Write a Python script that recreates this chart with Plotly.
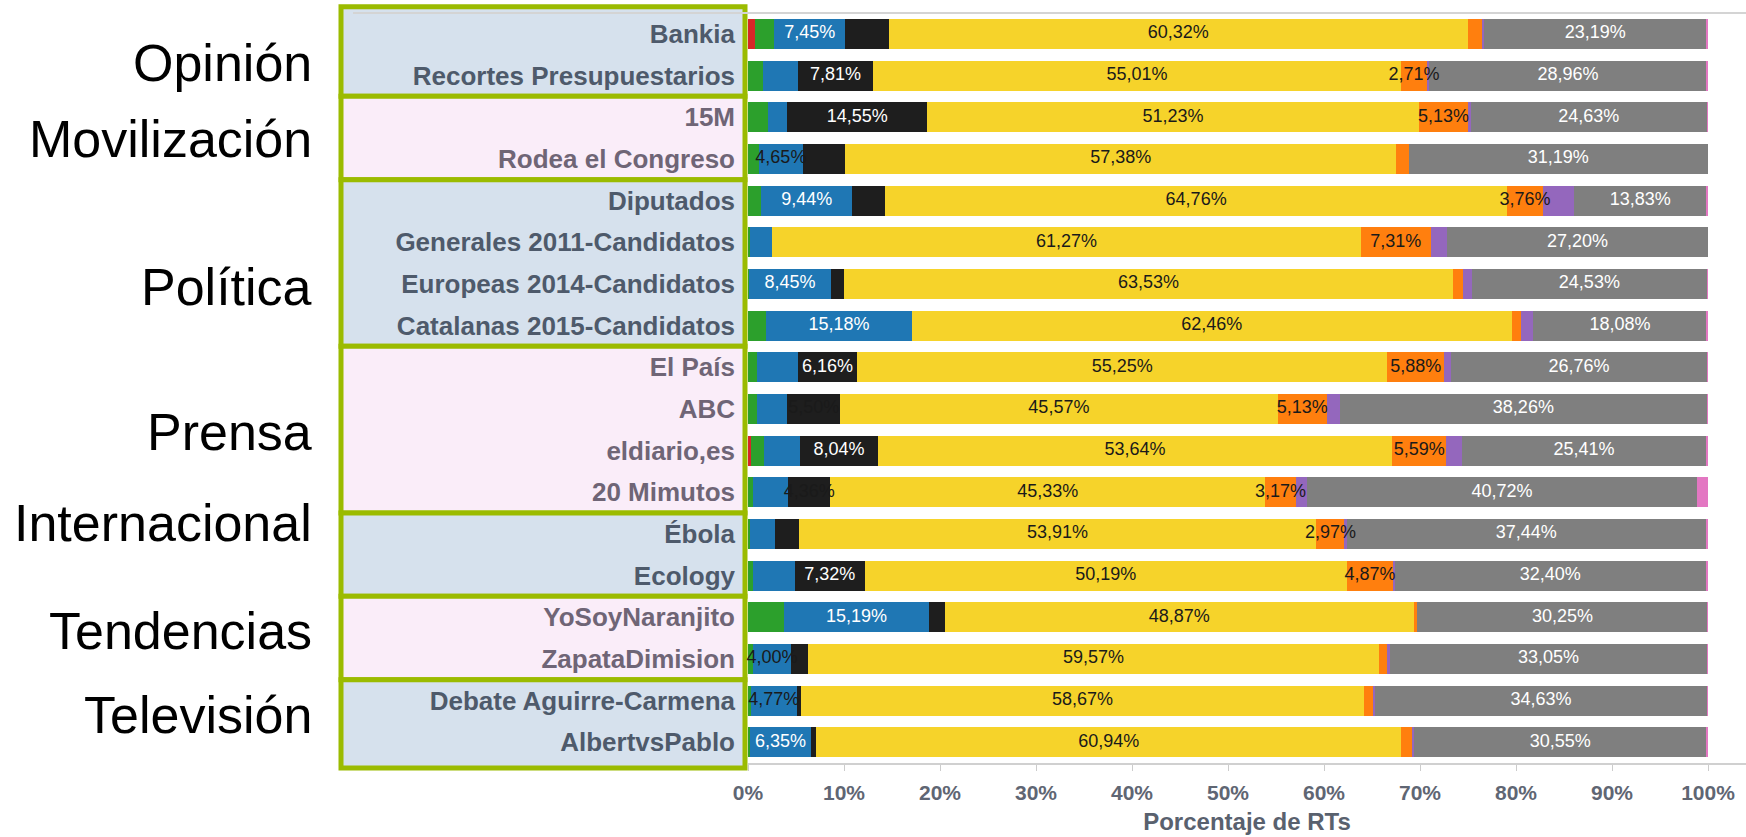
import plotly.graph_objects as go

# ---------------- data ----------------
categories = ["Bankia", "Recortes Presupuestarios", "15M", "Rodea el Congreso",
              "Diputados", "Generales 2011-Candidatos", "Europeas 2014-Candidatos",
              "Catalanas 2015-Candidatos", "El País", "ABC", "eldiario,es", "20 Mimutos",
              "Ébola", "Ecology", "YoSoyNaranjito", "ZapataDimision",
              "Debate Aguirre-Carmena", "AlbertvsPablo"]

rojo     = [0.70, 0.00, 0.00, 0.00, 0.00, 0.00, 0.00, 0.00, 0.05, 0.00, 0.35, 0.00, 0.00, 0.00, 0.00, 0.00, 0.00, 0.00]
verde    = [2.00, 1.60, 2.10, 1.10, 1.40, 0.25, 0.15, 1.90, 0.90, 0.90, 1.30, 0.50, 0.16, 0.50, 3.70, 0.50, 0.30, 0.20]
azul     = [7.45, 3.60, 2.00, 4.65, 9.44, 2.30, 8.45, 15.18, 4.25, 3.20, 3.80, 3.70, 2.70, 4.35, 15.19, 4.00, 4.77, 6.35]
negro    = [4.50, 7.81, 14.55, 4.40, 3.46, 0.00, 1.35, 0.00, 6.16, 5.50, 8.04, 4.36, 2.42, 7.32, 1.60, 1.70, 0.45, 0.55]
amarillo = [60.32, 55.01, 51.23, 57.38, 64.76, 61.27, 63.53, 62.46, 55.25, 45.57, 53.64, 45.33, 53.91, 50.19, 48.87, 59.57, 58.67, 60.94]
naranja  = [1.45, 2.71, 5.13, 1.28, 3.76, 7.31, 0.95, 1.00, 5.88, 5.13, 5.59, 3.17, 2.97, 4.87, 0.35, 0.80, 1.00, 1.20]
morado   = [0.25, 0.20, 0.26, 0.00, 3.20, 1.67, 0.95, 1.25, 0.70, 1.34, 1.67, 1.12, 0.20, 0.15, 0.00, 0.30, 0.10, 0.10]
gris     = [23.19, 28.96, 24.63, 31.19, 13.83, 27.20, 24.53, 18.08, 26.76, 38.26, 25.41, 40.72, 37.44, 32.40, 30.25, 33.05, 34.63, 30.55]
rosa     = [0.14, 0.10, 0.10, 0.00, 0.15, 0.00, 0.09, 0.13, 0.05, 0.10, 0.20, 1.10, 0.20, 0.22, 0.04, 0.08, 0.08, 0.11]

# which segments carry a value label (1 = light text, 2 = dark text, 0 = none)
azul_lbl     = [1, 0, 0, 2, 1, 0, 1, 1, 0, 0, 0, 0, 0, 0, 1, 2, 2, 1]
negro_lbl    = [0, 1, 1, 0, 0, 0, 0, 0, 1, 2, 1, 2, 0, 1, 0, 0, 0, 0]
amarillo_lbl = [2] * 18
naranja_lbl  = [0, 2, 2, 0, 2, 2, 0, 0, 2, 2, 2, 2, 2, 2, 0, 0, 0, 0]
gris_lbl     = [1] * 18

groups = ["Opinión", "Movilización", "Política", "Prensa", "Internacional", "Tendencias", "Televisión"]
group_sizes = [2, 2, 4, 4, 2, 2, 2]
x_ticks = [0, 10, 20, 30, 40, 50, 60, 70, 80, 90, 100]
x_title = "Porcentaje de RTs"

# ---------------- styling ----------------
W, H = 1746, 837
ML, MR, MT, MB = 748, 0, 13, 74
PW = W - ML - MR
PH = H - MT - MB
PX_PER_PCT = 9.6
FONT = "Liberation Sans, Arial, sans-serif"
N = len(categories)

series = [
    ("Rojo", rojo, "#d62728", None),
    ("Verde", verde, "#2ca02c", None),
    ("Azul", azul, "#1f77b4", azul_lbl),
    ("Negro", negro, "#1e1e1e", negro_lbl),
    ("Amarillo", amarillo, "#f6d32a", amarillo_lbl),
    ("Naranja", naranja, "#ff7f0e", naranja_lbl),
    ("Morado", morado, "#9467bd", None),
    ("Gris", gris, "#7f7f7f", gris_lbl),
    ("Rosa", rosa, "#e377c2", None),
]

def fmt(v):
    return ("%.2f" % v).replace(".", ",") + "%"

fig = go.Figure()
base = [0.0] * N
lab_x, lab_y, lab_t, lab_c = [], [], [], []
for name, vals, color, lbl in series:
    fig.add_trace(go.Bar(
        name=name, y=categories, x=vals, orientation="h",
        marker=dict(color=color, line=dict(width=0)),
        width=0.72, hoverinfo="skip", showlegend=False,
    ))
    if lbl is not None:
        for i, (v, m) in enumerate(zip(vals, lbl)):
            if m:
                lab_x.append(base[i] + v / 2.0)
                lab_y.append(categories[i])
                lab_t.append(fmt(v))
                lab_c.append("#ffffff" if m == 1 else "#1a1a1a")
    base = [b + v for b, v in zip(base, vals)]

# value labels drawn on top of every segment (so overflowing text stays visible)
fig.add_trace(go.Scatter(
    x=lab_x, y=lab_y, mode="text", text=lab_t, textposition="middle center",
    textfont=dict(family=FONT, size=18, color=lab_c),
    hoverinfo="skip", showlegend=False, cliponaxis=False,
))

# tick labels with colours depending on group shading
blue_txt, pink_txt = "#4e5a6b", "#6f6576"
ticktext = []
idx = 0
for gi, n in enumerate(group_sizes):
    col = blue_txt if gi % 2 == 0 else pink_txt
    for _ in range(n):
        ticktext.append('<span style="color:%s"><b>%s</b></span>' % (col, categories[idx]))
        idx += 1

def row_to_paper(r):
    # r: category position (0 = top row), boundaries at half-integers
    return 1 - (r + 0.5) / N

shapes = []
box_x0 = (341 - ML) / PW
box_x1 = (745 - ML) / PW
start = 0
for gi, n in enumerate(group_sizes):
    fill = "#d6e1ed" if gi % 2 == 0 else "#faedf9"
    r0 = start - 0.5 - (0.15 if gi == 0 else 0)
    r1 = start + n - 0.5 + (0.12 if gi == len(group_sizes) - 1 else 0)
    shapes.append(dict(type="rect", xref="paper", yref="paper", x0=box_x0, x1=box_x1,
                       y0=row_to_paper(r1), y1=row_to_paper(r0), fillcolor=fill,
                       line=dict(color="#9bbb00", width=5), layer="below"))
    start += n
# thin top rule of the table
shapes.append(dict(type="line", xref="paper", yref="paper", x0=(353 - ML) / PW, x1=1,
                   y0=1, y1=1, line=dict(color="#d4d4d4", width=2), layer="above"))

# big section labels (slide overlay)
label_px_y = [63, 139, 287, 432, 523, 631, 715]
annotations = []
for g, py in zip(groups, label_px_y):
    annotations.append(dict(text=g, xref="paper", yref="paper",
                            x=(314 - ML) / PW, y=1 - (py - MT) / PH,
                            xanchor="right", yanchor="middle", showarrow=False,
                            font=dict(family=FONT, size=52, color="#000000")))

fig.update_layout(
    width=W, height=H, autosize=False,
    margin=dict(l=ML, r=MR, t=MT, b=MB, pad=0),
    barmode="stack", bargap=0.28,
    paper_bgcolor="#ffffff", plot_bgcolor="#ffffff",
    shapes=shapes, annotations=annotations,
    font=dict(family=FONT),
    xaxis=dict(range=[0, PW / PX_PER_PCT], tickmode="array", tickvals=x_ticks,
               ticktext=["%d%%" % t for t in x_ticks], showgrid=False, zeroline=False,
               showline=True, linecolor="#d0d0d0", linewidth=2,
               ticks="outside", ticklen=6, tickcolor="#cccccc", tickwidth=1,
               ticklabelstandoff=4,
               tickfont=dict(family=FONT, size=21, color="#5f6673", weight="bold"),
               title=dict(text="<b>%s</b>" % x_title, standoff=10,
                          font=dict(family=FONT, size=24, color="#59616e"))),
    yaxis=dict(type="category", categoryorder="array", categoryarray=categories,
               range=[N - 0.5, -0.5], autorange=False,
               tickmode="array", tickvals=categories,
               ticktext=ticktext, showgrid=False, zeroline=False, showline=False,
               ticks="", ticklabelstandoff=12,
               tickfont=dict(family=FONT, size=26)),
)

fig.write_html("out.html", config={"displayModeBar": False},
               post_script="document.body.style.margin='0';document.body.style.overflow='hidden';")
